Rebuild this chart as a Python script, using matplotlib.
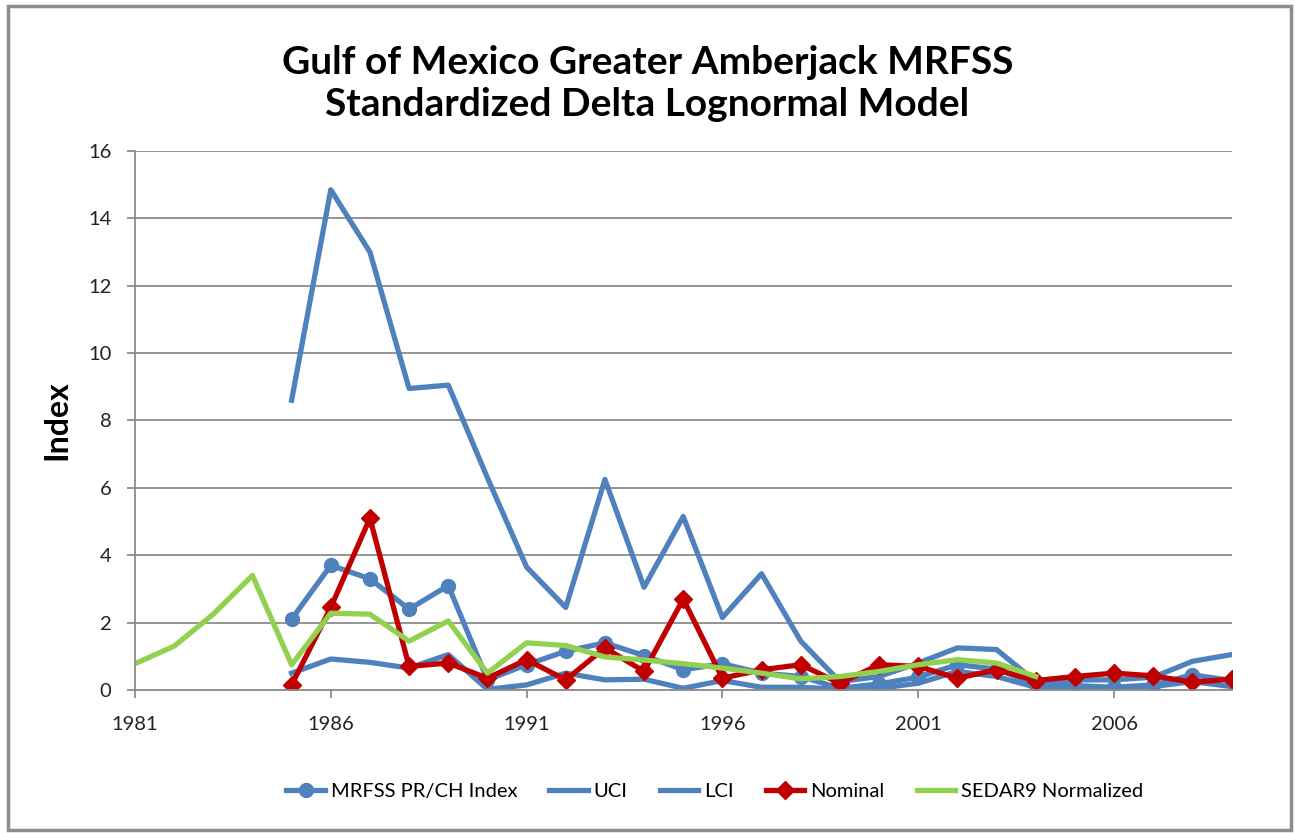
import matplotlib.pyplot as plt
import matplotlib.patches as mpatches
import numpy as np

nan = np.nan

# 数据: 1981-2009
years = np.arange(1981, 2010)
index_vals = [nan, nan, nan, nan, 2.1, 3.7, 3.3, 2.4, 3.1, 0.3,
              0.75, 1.15, 1.4, 1.02, 0.6, 0.78, 0.5, 0.4, 0.05, 0.18,
              0.38, 0.75, 0.62, 0.18, 0.13, 0.08, 0.15, 0.45, 0.28]
uci_vals = [nan, nan, nan, nan, 8.6, 14.85, 13.0, 8.95, 9.05, 6.3,
            3.65, 2.45, 6.25, 3.05, 5.15, 2.15, 3.45, 1.45, 0.25, 0.4,
            0.8, 1.25, 1.2, 0.25, 0.3, 0.3, 0.38, 0.85, 1.05]
lci_vals = [nan, nan, nan, nan, 0.5, 0.92, 0.82, 0.65, 1.05, 0.02,
            0.15, 0.5, 0.3, 0.32, 0.05, 0.28, 0.08, 0.08, 0.02, 0.05,
            0.2, 0.55, 0.4, 0.08, 0.08, 0.05, 0.1, 0.25, 0.1]
nominal_vals = [nan, nan, nan, nan, 0.15, 2.45, 5.1, 0.7, 0.8, 0.35,
                0.9, 0.3, 1.25, 0.55, 2.7, 0.35, 0.6, 0.75, 0.2, 0.75,
                0.7, 0.35, 0.6, 0.28, 0.4, 0.5, 0.42, 0.23, 0.32]
sedar9_vals = [0.78, 1.3, 2.25, 3.4, 0.75, 2.28, 2.25, 1.45, 2.05, 0.5,
               1.4, 1.32, 0.98, 0.89, 0.78, 0.65, 0.5, 0.33, 0.4, 0.55,
               0.75, 0.9, 0.8, 0.4, nan, nan, nan, nan, nan]

blue = '#4F81BD'
red = '#C00000'
green = '#92D050'
grid_c = '#8C8C8C'

plt.rcParams['font.family'] = ['Lato', 'DejaVu Sans']

fig = plt.figure(figsize=(12.95, 8.33), dpi=100)
ax = fig.add_axes([0.1042, 0.1717, 0.8468, 0.647])

lw = 3.8
ax.plot(years, np.array(index_vals, dtype=float), color=blue, lw=lw, marker='o',
        markersize=10, label='MRFSS PR/CH Index')
ax.plot(years, np.array(uci_vals, dtype=float), color=blue, lw=lw, label='UCI')
ax.plot(years, np.array(lci_vals, dtype=float), color=blue, lw=lw, label='LCI')
ax.plot(years, np.array(nominal_vals, dtype=float), color=red, lw=lw, marker='D',
        markersize=9, label='Nominal')
ax.plot(years, np.array(sedar9_vals, dtype=float), color=green, lw=lw,
        label='SEDAR9 Normalized')

ax.set_xlim(1981, 2009)
ax.set_ylim(0, 16)
ax.set_xticks(np.arange(1981, 2010, 5))
ax.set_yticks(np.arange(0, 17, 2))
ax.yaxis.grid(True, color=grid_c, lw=1.3)
ax.set_axisbelow(True)
for s in ['top', 'right']:
    ax.spines[s].set_visible(False)
for s in ['left', 'bottom']:
    ax.spines[s].set_color(grid_c)
    ax.spines[s].set_linewidth(1.3)
ax.tick_params(axis='both', colors=grid_c, length=6, width=1.3, labelsize=14.5,
               labelcolor='#222222')
ax.tick_params(axis='y', pad=11)
ax.tick_params(axis='x', pad=13)

ax.set_ylabel('Index', fontsize=23, fontweight='bold', labelpad=12)
fig.text(0.5, 0.9, 'Gulf of Mexico Greater Amberjack MRFSS\nStandardized Delta Lognormal Model',
         ha='center', va='center', fontsize=28, fontweight='bold', linespacing=1.25)

fig.legend(loc='center', bbox_to_anchor=(0.552, 0.05), ncol=5, frameon=False,
           fontsize=14.5, handlelength=1.9, handletextpad=0.3, columnspacing=1.6)

# 外边框
fig.patches.append(mpatches.Rectangle((0.006, 0.004), 0.991, 0.989, transform=fig.transFigure,
                                      fill=False, edgecolor='#8C8C8C', lw=2.5))

fig.savefig('out.png', dpi=100)
